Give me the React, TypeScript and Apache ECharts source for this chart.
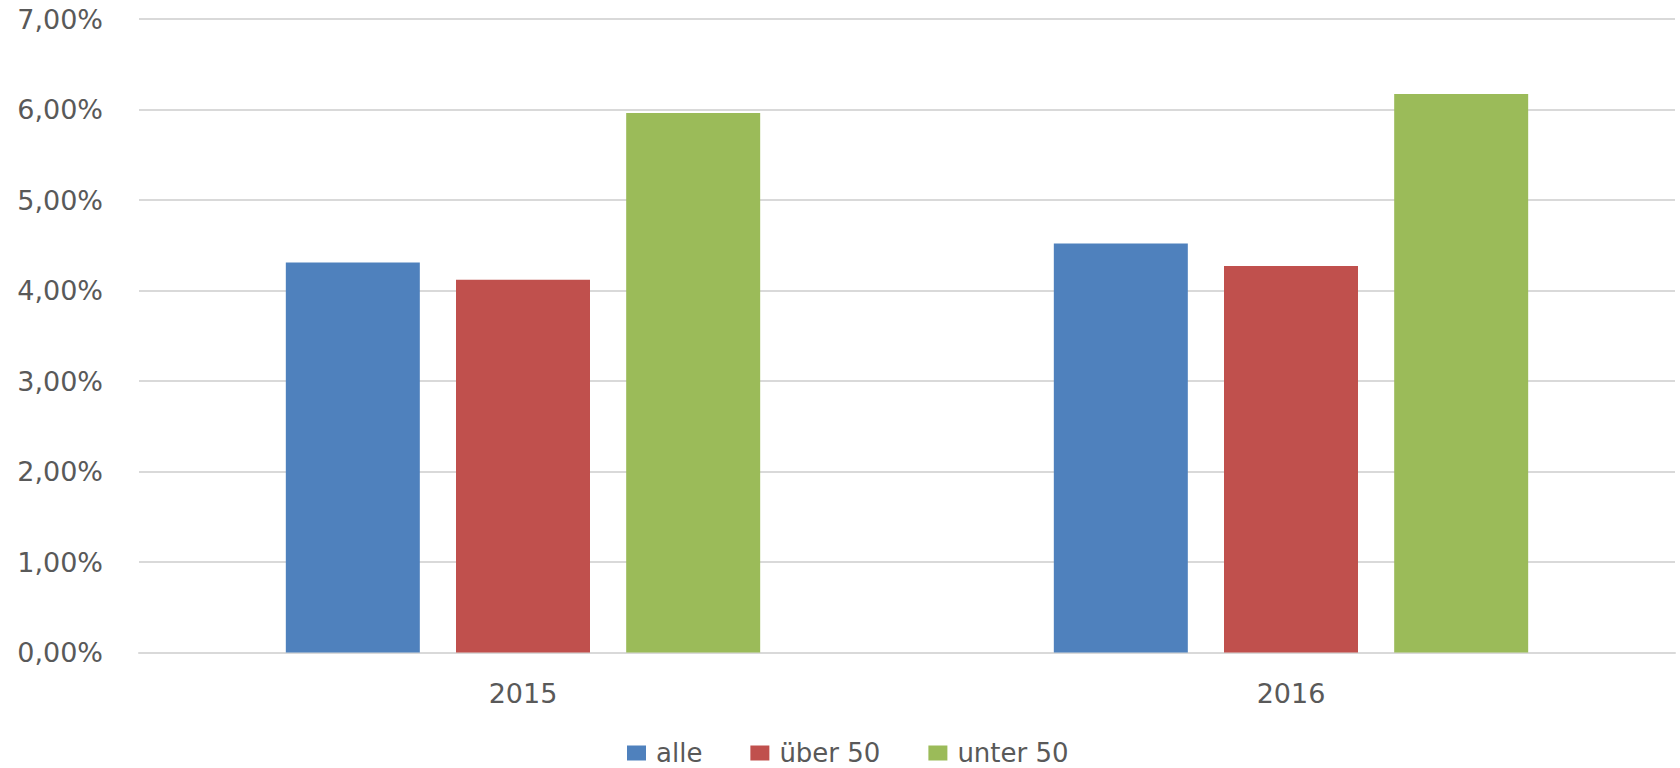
import React, { useEffect, useRef } from "react";
import * as echarts from "echarts";

// Years shown on the category axis
const years: string[] = ["2015", "2016"];

// Share in percent per group
const alle: number[] = [4.31, 4.52];
const ueber50: number[] = [4.12, 4.27];
const unter50: number[] = [5.96, 6.17];

const seriesNames: string[] = ["alle", "über 50", "unter 50"];
const seriesColors: string[] = ["#4F81BD", "#C0504D", "#9BBB59"];

const FONT = "DejaVu Sans";
const TEXT_COLOR = "#595959";
const GRID_COLOR = "#d9d9d9";

const fmtPercent = (v: number) => v.toFixed(2).replace(".", ",") + "%";

export default function App() {
  const ref = useRef<HTMLDivElement>(null);

  useEffect(() => {
    if (!ref.current) return;
    const chart = echarts.init(ref.current, undefined, { renderer: "svg" });
    const values = [alle, ueber50, unter50];

    chart.setOption({
      animation: false,
      backgroundColor: "#ffffff",
      textStyle: { fontFamily: FONT, color: TEXT_COLOR },
      grid: { left: 139, right: 5, top: 19, bottom: 115.5, containLabel: false },
      legend: {
        left: 627,
        top: 740,
        padding: 0,
        itemWidth: 19,
        itemHeight: 15,
        itemGap: 48,
        icon: "rect",
        textStyle: {
          fontFamily: FONT,
          fontSize: 26,
          lineHeight: 20,
          color: TEXT_COLOR,
          padding: [0, 0, 0, 5],
        },
        data: seriesNames,
      },
      xAxis: {
        type: "category",
        data: years,
        axisLine: { show: true, lineStyle: { color: GRID_COLOR, width: 2 } },
        axisTick: { show: false },
        axisLabel: { fontFamily: FONT, fontSize: 27, color: TEXT_COLOR, margin: 27 },
      },
      yAxis: {
        type: "value",
        min: 0,
        max: 7,
        interval: 1,
        axisLine: { show: false },
        axisTick: { show: false },
        splitLine: { show: true, lineStyle: { color: GRID_COLOR, width: 2 } },
        axisLabel: {
          fontFamily: FONT,
          fontSize: 27,
          color: TEXT_COLOR,
          margin: 36,
          formatter: (v: number) => fmtPercent(v),
        },
      },
      series: seriesNames.map((name, i) => ({
        name,
        type: "bar",
        data: values[i],
        barWidth: 134,
        barGap: "27%",
        itemStyle: { color: seriesColors[i] },
      })),
    });

    return () => chart.dispose();
  }, []);

  return (
    <div
      ref={ref}
      style={{ position: "fixed", left: 0, top: 0, width: 1680, height: 768, background: "#fff" }}
    />
  );
}
